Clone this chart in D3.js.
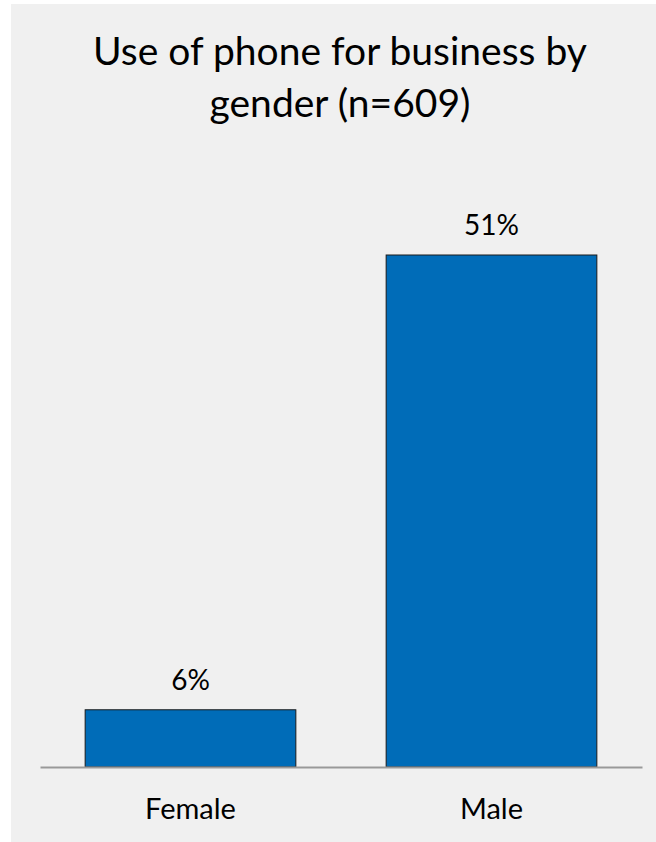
<!DOCTYPE html>
<html><head><meta charset="utf-8">
<script src="https://cdn.jsdelivr.net/npm/d3@7"></script>
<style>html,body{margin:0;padding:0;background:#fff;}svg{display:block;}</style>
</head><body>
<script>
const categories = ["Female", "Male"];
const values = [5.7, 51];
const valueLabels = ["6%", "51%"];
const titleLines = ["Use of phone for business by", "gender (n=609)"];

const W = 656, H = 842;
const font = "Lato, 'Open Sans', sans-serif";
const svg = d3.select("body").append("svg").attr("width", W).attr("height", H);
svg.append("rect").attr("x", 11).attr("y", 4).attr("width", W - 11).attr("height", H - 4).attr("fill", "#f0f0f0");

const x = d3.scaleBand().domain(categories).range([40, 642]).paddingInner(0.3).paddingOuter(0.15);
const y = d3.scaleLinear().domain([0, 51]).range([767, 255]);

svg.append("g").selectAll("text").data(titleLines).join("text")
  .attr("x", 340).attr("y", (d, i) => 65 + i * 52)
  .attr("text-anchor", "middle").attr("font-family", font).attr("font-size", 39).attr("fill", "#000")
  .text(d => d);

svg.append("g").selectAll("rect").data(values).join("rect")
  .attr("x", (d, i) => x(categories[i])).attr("width", x.bandwidth())
  .attr("y", d => y(d)).attr("height", d => y(0) - y(d))
  .attr("fill", "#006CB8").attr("stroke", "#1a1a1a").attr("stroke-width", 1);

svg.append("g").selectAll("text").data(values).join("text")
  .attr("x", (d, i) => x(categories[i]) + x.bandwidth() / 2).attr("y", d => y(d) - 20)
  .attr("text-anchor", "middle").attr("font-family", font).attr("font-size", 28).attr("fill", "#000")
  .text((d, i) => valueLabels[i]);

const axis = svg.append("g").attr("transform", `translate(0,${y(0)})`)
  .call(d3.axisBottom(x).tickSize(0).tickPadding(52).tickSizeOuter(0));
axis.select(".domain").attr("stroke", "#999").attr("stroke-width", 2);
axis.selectAll("text").attr("dy", 0).attr("font-family", font).attr("font-size", 29).attr("fill", "#000");
</script>
</body></html>
